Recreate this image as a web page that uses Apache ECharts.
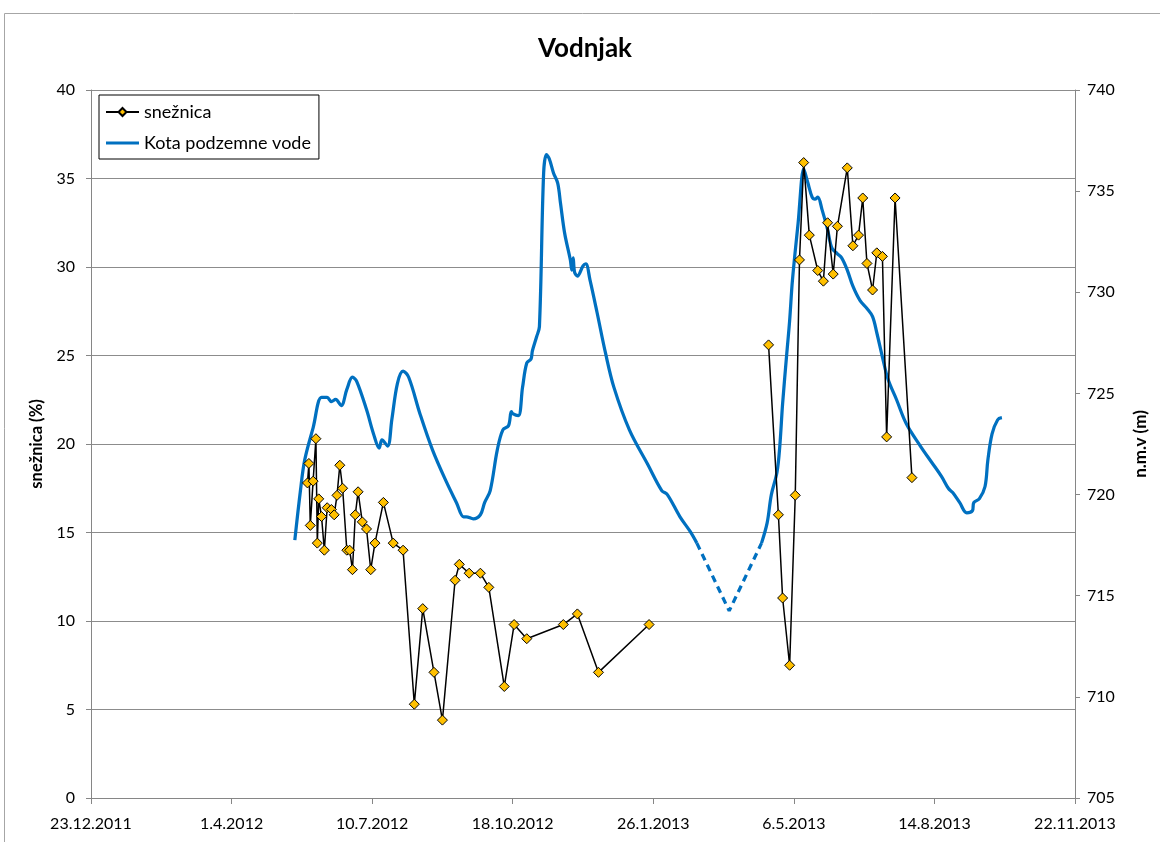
<!DOCTYPE html>
<html>
<head>
<meta charset="utf-8">
<title>Vodnjak</title>
<script src="https://cdn.jsdelivr.net/npm/echarts@6/dist/echarts.min.js"></script>
<style>
  html, body { margin: 0; padding: 0; background: #fff; }
  #chart { width: 1160px; height: 842px; }
</style>
</head>
<body>
<div id="chart"></div>
<script>
// Date axis: tick every 100 days starting at 23.12.2011
const xStart = '2011-12-23';
const xTickLabels = ['23.12.2011', '1.4.2012', '10.7.2012', '18.10.2012', '26.1.2013', '6.5.2013', '14.8.2013', '22.11.2013'];

// snežnica (%) – 2012/13 campaign
const snDates2012 = ['2012-05-25','2012-05-26','2012-05-27','2012-05-29','2012-05-31','2012-06-01','2012-06-02','2012-06-04','2012-06-06','2012-06-08','2012-06-11','2012-06-13','2012-06-15','2012-06-17','2012-06-19','2012-06-22','2012-06-24','2012-06-26','2012-06-28','2012-06-30','2012-07-03','2012-07-06','2012-07-09','2012-07-12','2012-07-18','2012-07-25','2012-08-01','2012-08-09','2012-08-15','2012-08-23','2012-08-29','2012-09-07','2012-09-10','2012-09-17','2012-09-25','2012-10-01','2012-10-12','2012-10-19','2012-10-28','2012-11-23','2012-12-03','2012-12-18','2013-01-23'];
const snValues2012 = [17.8,18.9,15.4,17.9,20.3,14.4,16.9,15.9,14.0,16.4,16.3,16.0,17.1,18.8,17.5,14.0,14.0,12.9,16.0,17.3,15.6,15.2,12.9,14.4,16.7,14.4,14.0,5.3,10.7,7.1,4.4,12.3,13.2,12.7,12.7,11.9,6.3,9.8,9.0,9.8,10.4,7.1,9.8];

// snežnica (%) – 2013 campaign
const snDates2013 = ['2013-04-18','2013-04-25','2013-04-28','2013-05-03','2013-05-07','2013-05-10','2013-05-13','2013-05-17','2013-05-23','2013-05-27','2013-05-30','2013-06-03','2013-06-06','2013-06-13','2013-06-17','2013-06-21','2013-06-24','2013-06-27','2013-07-01','2013-07-04','2013-07-08','2013-07-11','2013-07-17','2013-07-29'];
const snValues2013 = [25.6,16.0,11.3,7.5,17.1,30.4,35.9,31.8,29.8,29.2,32.5,29.6,32.3,35.6,31.2,31.8,33.9,30.2,28.7,30.8,30.6,20.4,33.9,18.1];

// Kota podzemne vode (m n.m.) – measured until end of February 2013
const gwDates2012 = ['2012-05-16','2012-05-20','2012-05-23','2012-05-29','2012-06-04','2012-06-08','2012-06-11','2012-06-14','2012-06-18','2012-06-22','2012-06-26','2012-06-29','2012-07-06','2012-07-11','2012-07-15','2012-07-17','2012-07-21','2012-07-24','2012-07-28','2012-08-01','2012-08-05','2012-08-13','2012-08-22','2012-09-01','2012-09-08','2012-09-13','2012-09-15','2012-09-20','2012-09-25','2012-09-28','2012-10-02','2012-10-07','2012-10-11','2012-10-15','2012-10-17','2012-10-18','2012-10-22','2012-10-25','2012-10-28','2012-10-31','2012-11-01','2012-11-04','2012-11-06','2012-11-09','2012-11-11','2012-11-13','2012-11-16','2012-11-19','2012-11-21','2012-11-24','2012-11-28','2012-11-29','2012-11-30','2012-12-01','2012-12-03','2012-12-07','2012-12-09','2012-12-12','2012-12-17','2012-12-23','2012-12-29','2013-01-09','2013-01-22','2013-02-01','2013-02-05','2013-02-14','2013-02-21','2013-02-26'];
const gwLevels2012 = [717.75,720.2,721.7,723.3,724.8,724.8,724.6,724.7,724.4,725.2,725.8,725.6,724.2,723.0,722.3,722.7,722.4,723.7,725.5,726.1,725.8,724.0,722.2,720.6,719.6,718.9,718.9,718.8,719.0,719.6,720.2,722.2,723.2,723.4,724.1,724.0,723.9,725.3,726.5,726.7,727.1,727.8,728.3,735.9,736.8,736.6,735.9,735.4,734.4,732.9,731.6,731.1,731.7,731.0,730.8,731.3,731.4,730.6,729.0,727.0,725.3,723.2,721.5,720.2,720.0,718.9,718.2,717.6];

// Kota podzemne vode – measured again from mid April 2013
const gwDates2013 = ['2013-04-13','2013-04-17','2013-04-20','2013-04-24','2013-04-26','2013-04-28','2013-05-01','2013-05-03','2013-05-05','2013-05-09','2013-05-13','2013-05-14','2013-05-16','2013-05-19','2013-05-21','2013-05-23','2013-05-26','2013-05-30','2013-06-02','2013-06-06','2013-06-09','2013-06-13','2013-06-17','2013-06-22','2013-06-27','2013-07-01','2013-07-04','2013-07-08','2013-07-12','2013-07-18','2013-07-25','2013-08-04','2013-08-12','2013-08-19','2013-08-24','2013-08-27','2013-09-01','2013-09-06','2013-09-10','2013-09-11','2013-09-15','2013-09-19','2013-09-21','2013-09-24','2013-09-28','2013-10-01'];
const gwLevels2013 = [717.6,718.6,720.0,721.1,722.4,724.5,727.0,728.6,730.6,733.4,736.1,735.9,735.4,734.7,734.6,734.7,734.1,733.1,732.2,731.9,731.7,731.1,730.3,729.6,729.2,728.8,728.0,726.8,725.7,724.7,723.5,722.4,721.6,720.9,720.3,720.1,719.6,719.1,719.2,719.6,719.8,720.4,721.7,723.0,723.7,723.8];

// Estimated (unmeasured) stretch, drawn dashed
const gwGapDates = ['2013-02-26','2013-03-21','2013-04-13'];
const gwGapLevels = [717.6,714.25,717.6];

const DAY = 86400000;
const t0 = Date.parse(xStart);
const dayOf = s => (Date.parse(s) - t0) / DAY;
const pairs = (dates, vals) => dates.map((d, i) => [dayOf(d), vals[i]]);
const breakBetween = (a, b) => [(dayOf(a[a.length - 1]) + dayOf(b[0])) / 2, '-'];

const snData = [
  ...pairs(snDates2012, snValues2012),
  breakBetween(snDates2012, snDates2013),
  ...pairs(snDates2013, snValues2013)
];
const gwData = [
  ...pairs(gwDates2012, gwLevels2012),
  breakBetween(gwDates2012, gwDates2013),
  ...pairs(gwDates2013, gwLevels2013)
];
const gwGapData = pairs(gwGapDates, gwGapLevels);

const FONT = 'Lato, "Open Sans", sans-serif';
const AXIS_GRAY = '#868686';
const BLUE = '#0070C0';
// plain line used as the legend key of the groundwater series
const LINE_ICON = 'path://M0,0 M33,10 M0,3.6 L33,3.6 L33,6.4 L0,6.4 Z';

const chart = echarts.init(document.getElementById('chart'), null, { renderer: 'canvas' });
chart.setOption({
  animation: false,
  textStyle: { fontFamily: FONT, color: '#000' },
  graphic: [{
    type: 'rect',
    shape: { x: 4.5, y: 13.5, width: 1200, height: 900 },
    style: { fill: 'none', stroke: '#a6a6a6', lineWidth: 1 },
    silent: true,
    z: -1
  }],
  title: {
    text: 'Vodnjak',
    left: 585,
    top: 36,
    textAlign: 'center',
    padding: 0,
    textStyle: { fontFamily: FONT, fontSize: 26, fontWeight: 'bold', color: '#000' }
  },
  legend: {
    data: [
      { name: 'snežnica' },
      { name: 'Kota podzemne vode', icon: LINE_ICON }
    ],
    orient: 'vertical',
    left: 99,
    top: 95,
    padding: [8, 8, 7, 6],
    itemGap: 13,
    itemWidth: 33,
    itemHeight: 10,
    borderColor: '#000',
    borderWidth: 1,
    textStyle: { fontFamily: FONT, fontSize: 18, color: '#000' }
  },
  grid: { left: 91, top: 90, width: 984, height: 708, containLabel: false },
  xAxis: {
    type: 'value',
    min: 0,
    max: 700,
    interval: 100,
    axisLine: { show: true, lineStyle: { color: AXIS_GRAY, width: 1 } },
    axisTick: { show: true, inside: false, length: 6, lineStyle: { color: AXIS_GRAY } },
    splitLine: { show: false },
    axisLabel: {
      fontFamily: FONT, fontSize: 16, color: '#000', margin: 18,
      formatter: v => xTickLabels[Math.round(v / 100)]
    }
  },
  yAxis: [{
    type: 'value',
    position: 'left',
    min: 0,
    max: 40,
    interval: 5,
    name: 'snežnica (%)',
    nameLocation: 'middle',
    nameGap: 45,
    nameTextStyle: { fontFamily: FONT, fontSize: 16.5, fontWeight: 'bold', color: '#000' },
    axisLine: { show: true, lineStyle: { color: AXIS_GRAY, width: 1 } },
    axisTick: { show: true, inside: false, length: 5, lineStyle: { color: AXIS_GRAY } },
    splitLine: { show: true, lineStyle: { color: '#8c8c8c', width: 1 } },
    axisLabel: { fontFamily: FONT, fontSize: 16, color: '#000', margin: 16 }
  }, {
    type: 'value',
    position: 'right',
    min: 705,
    max: 740,
    interval: 5,
    name: 'n.m.v (m)',
    nameLocation: 'middle',
    nameGap: 57,
    nameTextStyle: { fontFamily: FONT, fontSize: 17, fontWeight: 'bold', color: '#000' },
    axisLine: { show: true, lineStyle: { color: AXIS_GRAY, width: 1 } },
    axisTick: { show: true, inside: false, length: 5, lineStyle: { color: AXIS_GRAY } },
    splitLine: { show: false },
    axisLabel: { fontFamily: FONT, fontSize: 16, color: '#000', margin: 12 }
  }],
  series: [{
    name: 'Kota podzemne vode',
    type: 'line',
    yAxisIndex: 1,
    data: gwData,
    showSymbol: false,
    symbol: 'none',
    smooth: 0.35,
    connectNulls: false,
    lineStyle: { color: BLUE, width: 3.25 },
    itemStyle: { color: BLUE },
    z: 2
  }, {
    name: 'Kota podzemne vode (ocena)',
    type: 'line',
    yAxisIndex: 1,
    data: gwGapData,
    symbol: 'none',
    lineStyle: { color: BLUE, width: 3.25, type: [7, 5] },
    itemStyle: { color: BLUE },
    z: 2
  }, {
    name: 'snežnica',
    type: 'line',
    yAxisIndex: 0,
    data: snData,
    connectNulls: false,
    symbol: 'diamond',
    symbolSize: 10,
    showAllSymbol: true,
    lineStyle: { color: '#000', width: 1.5 },
    itemStyle: { color: '#FFC000', borderColor: '#000', borderWidth: 1 },
    z: 3
  }]
});
</script>
</body>
</html>
